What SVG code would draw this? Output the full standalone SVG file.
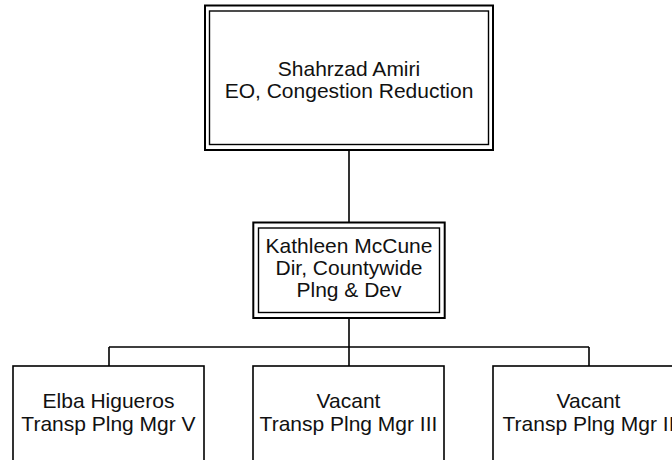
<svg xmlns="http://www.w3.org/2000/svg" width="672" height="460" viewBox="0 0 672 460">
<style>
.o{fill:#fff;stroke:#000;stroke-width:2}
.i{fill:none;stroke:#000;stroke-width:1.4}
.b{fill:#fff;stroke:#000;stroke-width:1.6}
.c{fill:none;stroke:#000;stroke-width:1.6}
text{font-family:"Liberation Sans",Arial,sans-serif;font-size:21px;fill:#111;text-anchor:middle}
</style>
<rect width="672" height="460" fill="#fff"/>
<g id="connectors">
<path class="c" d="M349 150V222M349 318V366M109 347H589M109 347V366M589 347V366"/>
</g>
<g id="n1">
<rect class="o" x="205" y="5.5" width="288" height="144.5"/>
<rect class="i" x="209.5" y="11" width="279" height="133.5"/>
<text x="349" y="75.5">Shahrzad Amiri</text>
<text x="349" y="98">EO, Congestion Reduction</text>
</g>
<g id="n2">
<rect class="o" x="253.3" y="222.5" width="191.4" height="95.5"/>
<rect class="i" x="258.5" y="228" width="181" height="84.5"/>
<text x="349" y="253">Kathleen McCune</text>
<text x="349" y="275">Dir, Countywide</text>
<text x="349" y="296.5">Plng &amp; Dev</text>
</g>
<g id="n3">
<rect class="b" x="13" y="366" width="191" height="110"/>
<text x="108.5" y="408">Elba Higueros</text>
<text x="108.5" y="431">Transp Plng Mgr V</text>
</g>
<g id="n4">
<rect class="b" x="253" y="366" width="191" height="110"/>
<text x="348.5" y="408">Vacant</text>
<text x="348.5" y="431">Transp Plng Mgr III</text>
</g>
<g id="n5">
<rect class="b" x="493" y="366" width="191" height="110"/>
<text x="588.5" y="408">Vacant</text>
<text x="588.5" y="431">Transp Plng Mgr II</text>
</g>
</svg>
